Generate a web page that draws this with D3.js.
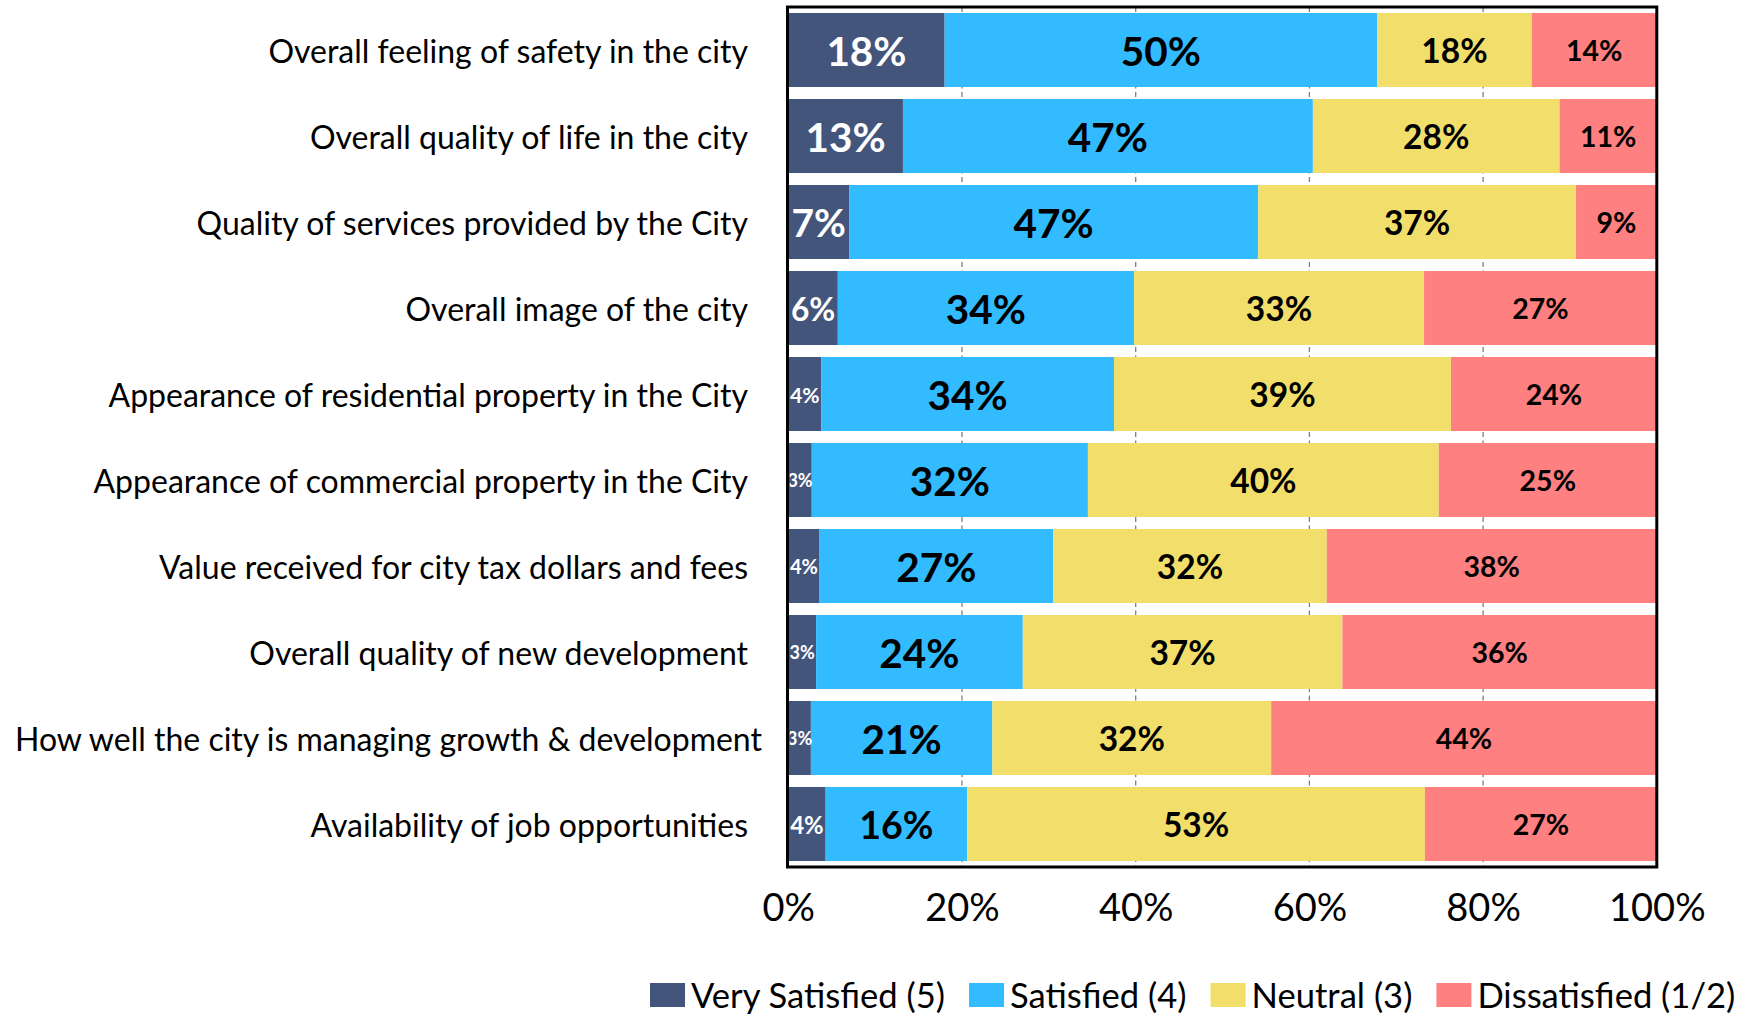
<!DOCTYPE html>
<html>
<head>
<meta charset="utf-8">
<script src="https://cdn.jsdelivr.net/npm/d3@7"></script>
<style>
  html, body { margin: 0; padding: 0; background: #fff; }
  svg { display: block; font-family: Calibri, Carlito, Lato, "Open Sans", sans-serif; }
</style>
</head>
<body>
<svg id="chart" width="1752" height="1014"></svg>
<script>
const categories = [
  "Overall feeling of safety in the city",
  "Overall quality of life in the city",
  "Quality of services provided by the City",
  "Overall image of the city",
  "Appearance of residential property in the City",
  "Appearance of commercial property in the City",
  "Value received for city tax dollars and fees",
  "Overall quality of new development",
  "How well the city is managing growth & development",
  "Availability of job opportunities"
];
const seriesNames = ["Very Satisfied (5)", "Satisfied (4)", "Neutral (3)", "Dissatisfied (1/2)"];
const verySatisfied = [18.0, 13.2, 7.0, 5.7, 3.8, 2.7, 3.6, 3.2, 2.6, 4.3];
const satisfied     = [49.8, 47.2, 47.1, 34.1, 33.7, 31.8, 26.9, 23.8, 20.9, 16.3];
const neutral       = [17.8, 28.4, 36.6, 33.4, 38.8, 40.4, 31.5, 36.8, 32.1, 52.7];
const dissatisfied  = [14.4, 11.2, 9.3, 26.8, 23.7, 25.1, 38.0, 36.2, 44.4, 26.7];
const xTicks = [0, 20, 40, 60, 80, 100];

const colors = ["#44557C", "#33BBFF", "#F2DF6B", "#FF8080"];
const labelColors = ["#FFFFFF", "#000000", "#000000", "#000000"];
const FONT = "Lato";

const rows = categories.map((c, i) => ({
  category: c,
  [seriesNames[0]]: verySatisfied[i],
  [seriesNames[1]]: satisfied[i],
  [seriesNames[2]]: neutral[i],
  [seriesNames[3]]: dissatisfied[i]
}));

const svg = d3.select("#chart");
const plot = { left: 788.3, right: 1656.8, top: 7, bottom: 867 };

const x = d3.scaleLinear().domain([0, 100]).range([plot.left, plot.right]);
const y = d3.scaleBand().domain(categories).range([plot.top, plot.bottom])
  .paddingInner(0.1395).paddingOuter(0.0698);

const stacked = d3.stack().keys(seriesNames)(rows);

// gridlines
svg.append("g").selectAll("line")
  .data(xTicks.filter(t => t > 0 && t < 100))
  .join("line")
  .attr("x1", d => x(d)).attr("x2", d => x(d))
  .attr("y1", plot.top).attr("y2", plot.bottom)
  .attr("stroke", "#7F7F7F").attr("stroke-width", 1.3)
  .attr("stroke-dasharray", "5,3.5");

// bars
const gSeries = svg.append("g").selectAll("g")
  .data(stacked).join("g")
  .attr("fill", (d, i) => colors[i]);
gSeries.selectAll("rect")
  .data(d => d)
  .join("rect")
  .attr("x", d => x(d[0]))
  .attr("width", d => x(d[1]) - x(d[0]))
  .attr("y", d => y(d.data.category))
  .attr("height", y.bandwidth());

// clip for data labels
svg.append("clipPath").attr("id", "plotClip")
  .append("rect")
  .attr("x", plot.left + 1.5).attr("y", plot.top)
  .attr("width", plot.right - plot.left - 1.5).attr("height", plot.bottom - plot.top);

// data labels
function labelSize(si, w) {
  if (si === 0) return Math.max(18, Math.min(40.5, w * 0.64));
  if (si === 1) return Math.min(40.5, w * 0.265);
  if (si === 2) return 33.5;
  return 28.5;
}
const gLabels = svg.append("g").attr("clip-path", "url(#plotClip)");
stacked.forEach((s, si) => {
  gLabels.append("g").selectAll("text")
    .data(s).join("text")
    .each(function(d) {
      const w = x(d[1]) - x(d[0]);
      const fs = labelSize(si, w);
      d3.select(this)
        .attr("x", (x(d[0]) + x(d[1])) / 2)
        .attr("y", y(d.data.category) + y.bandwidth() / 2 + fs * 0.38 + 0.5)
        .attr("font-size", fs);
    })
    .attr("text-anchor", "middle")
    .attr("font-family", FONT)
    .attr("font-weight", 700)
    .attr("fill", labelColors[si])
    .text(d => Math.round(d[1] - d[0]) + "%");
});

// frame
svg.append("rect")
  .attr("x", plot.left - 0.8).attr("y", plot.top)
  .attr("width", plot.right - plot.left + 0.8).attr("height", plot.bottom - plot.top)
  .attr("fill", "none").attr("stroke", "#000").attr("stroke-width", 3);

// x axis
const xAxis = svg.append("g")
  .attr("transform", `translate(0,${plot.bottom})`)
  .call(d3.axisBottom(x).tickValues(xTicks).tickFormat(d => d + "%").tickSize(0));
xAxis.select(".domain").remove();
xAxis.selectAll("text")
  .attr("y", 54).attr("dy", 0)
  .attr("font-family", FONT).attr("font-size", 38).attr("fill", "#000");

// y axis labels
const labelRight = 748;
const yAxis = svg.append("g")
  .attr("transform", `translate(${labelRight},0)`)
  .call(d3.axisLeft(y).tickSize(0).tickPadding(0));
yAxis.select(".domain").remove();
yAxis.selectAll("text")
  .attr("font-family", FONT).attr("font-size", 32).attr("fill", "#000")
  .attr("dy", 0).attr("y", 13)
  .each(function() {
    const w = this.getComputedTextLength();
    if (w > labelRight - 15) {
      d3.select(this).attr("text-anchor", "start").attr("x", 15 - labelRight);
    }
  });

// legend
const legend = svg.append("g").attr("font-family", FONT).attr("font-size", 34.6);
let lx = 650;
seriesNames.forEach((name, i) => {
  const g = legend.append("g");
  g.append("rect").attr("x", lx).attr("y", 983).attr("width", 35).attr("height", 24)
    .attr("fill", colors[i]);
  const t = g.append("text").attr("x", lx + 41).attr("y", 1007.5).attr("fill", "#000").text(name);
  lx += 41 + t.node().getComputedTextLength() + 24;
});
</script>
</body>
</html>
